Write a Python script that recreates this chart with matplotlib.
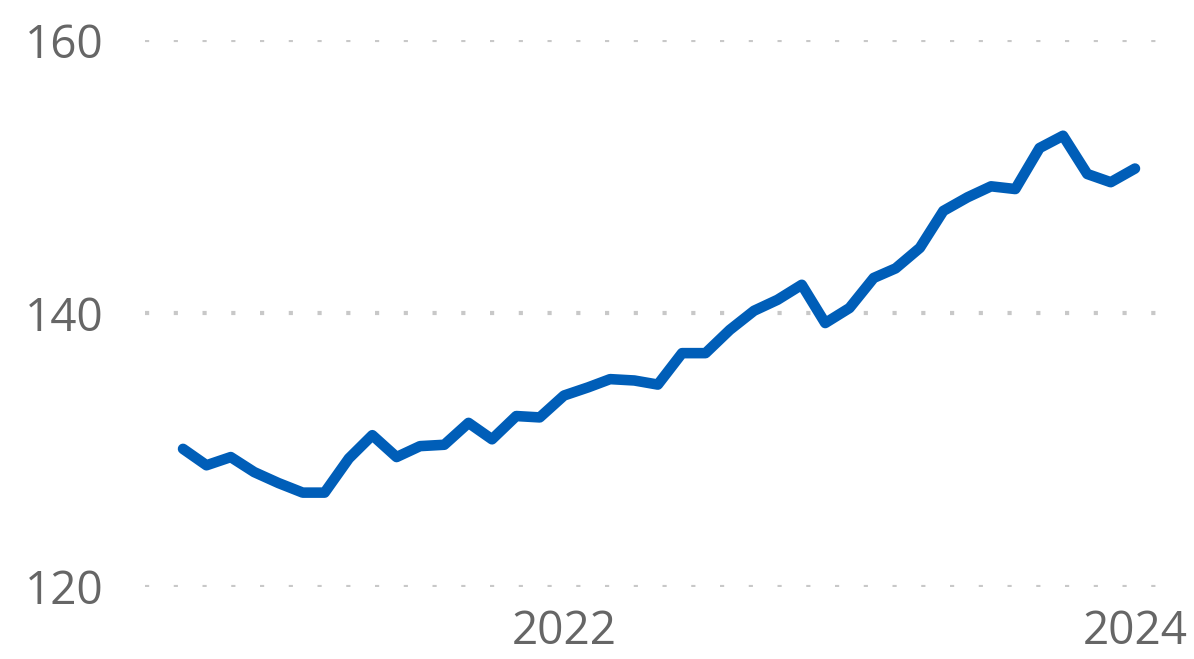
import pandas as pd
import matplotlib
matplotlib.use("Agg")
import matplotlib.pyplot as plt
import matplotlib.dates as mdates

# monthly index values, Sep 2020 - Jan 2024
months = pd.date_range("2020-09-01", periods=41, freq="MS")
values = [130.1, 128.9, 129.5, 128.4, 127.6, 126.9, 126.9, 129.4, 131.1, 129.5,
          130.3, 130.4, 132.0, 130.8, 132.5, 132.4, 134.0, 134.6, 135.2, 135.1,
          134.8, 137.1, 137.1, 138.8, 140.2, 141.0, 142.1, 139.3, 140.4, 142.6,
          143.3, 144.8, 147.5, 148.5, 149.3, 149.1, 152.1, 153.0, 150.2, 149.6,
          150.6]
y_ticks = [120, 140, 160]
x_ticks = ["2022-01-01", "2024-01-01"]
x_labels = ["2022", "2024"]

plt.rcParams['font.family'] = ['Open Sans', 'DejaVu Sans']

fig = plt.figure(figsize=(11.94, 6.59), dpi=100)
ax = fig.add_axes([0.1214, 0.1093, 0.8501, 0.83])

ax.plot(months, values, color="#005eb8", linewidth=7.6,
        solid_capstyle="round", solid_joinstyle="round", zorder=3)

# one month is ~23.8 px, the plot area starts ~1.6 months before the first point
step = (mdates.date2num(months[-1]) - mdates.date2num(months[0])) / 40
ax.set_xlim(mdates.date2num(months[0]) - 1.6 * step,
            mdates.date2num(months[-1]) + 1.05 * step)
ax.set_ylim(120, 160)

ax.set_yticks(y_ticks)
ax.set_xticks(mdates.date2num(pd.to_datetime(x_ticks)))
ax.set_xticklabels(x_labels)

for y in y_ticks:
    ax.axhline(y, color="#c8c8c8", linewidth=3, linestyle=(0, (1, 5.9)), zorder=1)

ax.tick_params(axis="both", length=0, labelsize=33, labelcolor="#666666")
ax.tick_params(axis="y", pad=30)
ax.tick_params(axis="x", pad=16)
for s in ax.spines.values():
    s.set_visible(False)
ax.grid(False)

fig.savefig("out.png", dpi=100)
